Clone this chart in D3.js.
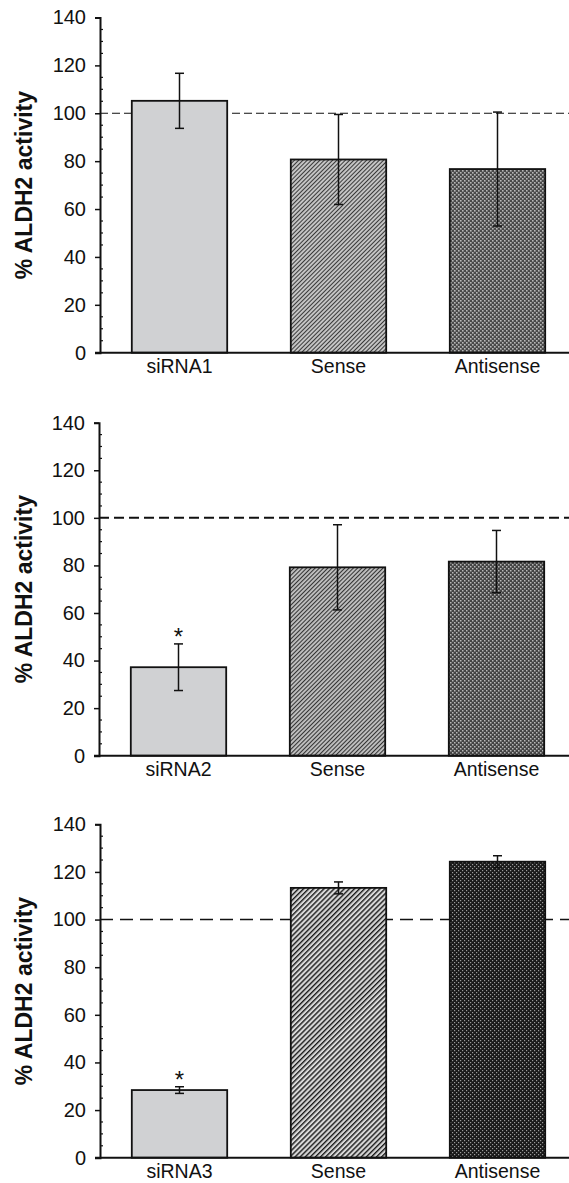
<!DOCTYPE html>
<html>
<head>
<meta charset="utf-8">
<script src="https://cdn.jsdelivr.net/npm/d3@7"></script>
<style>
  html, body { margin: 0; padding: 0; background: #fff; }
  svg { display: block; font-family: "Liberation Sans", Arial, sans-serif; }
</style>
</head>
<body>
<svg id="stage"></svg>
<script>
/* ---------- data ---------- */

const group_labels = ["siRNA1", "siRNA2", "siRNA3"];
const control_labels = ["Sense", "Antisense"];

const means_1 = [105.2, 80.7, 76.7];
const errors_1 = [11.5, 18.8, 23.8];
const means_2 = [37.2, 79.2, 81.6];
const errors_2 = [9.8, 17.9, 13.1];
const means_3 = [28.4, 113.3, 124.3];
const errors_3 = [1.4, 2.5, 2.5];

const significant = [false, true, true]; // asterisk over the siRNA bar
const reference_level = 100;
const y_ticks = [0, 20, 40, 60, 80, 100, 120, 140];
const y_axis_label = "% ALDH2 activity";

/* ---------- basic setup ---------- */

const width = 569;
const height = 1183;

const svg = d3.select("#stage")
  .attr("width", width)
  .attr("height", height);

const defs = svg.append("defs");

// hatch patterns, each panel was scanned a bit differently
function add_hatch(id, bg, fg, gap, stroke_w) {
  const p = defs.append("pattern")
    .attr("id", id)
    .attr("patternUnits", "userSpaceOnUse")
    .attr("width", gap)
    .attr("height", 10)
    .attr("patternTransform", "rotate(45)");
  p.append("rect").attr("width", gap).attr("height", 10).attr("fill", bg);
  p.append("line")
    .attr("x1", 0.5).attr("y1", 0).attr("x2", 0.5).attr("y2", 10)
    .attr("stroke", fg).attr("stroke-width", stroke_w);
}

function add_check(id, bg, fg, cell, dot) {
  const p = defs.append("pattern")
    .attr("id", id)
    .attr("patternUnits", "userSpaceOnUse")
    .attr("width", cell)
    .attr("height", cell);
  p.append("rect").attr("width", cell).attr("height", cell).attr("fill", bg);
  p.append("rect").attr("width", dot).attr("height", dot).attr("fill", fg);
  p.append("rect").attr("x", cell / 2).attr("y", cell / 2)
    .attr("width", dot).attr("height", dot).attr("fill", fg);
}

add_hatch("hatch1", "#c4c4c4", "#3a3a3a", 3, 1);
add_check("check1", "#4a4a4a", "#b8b8b8", 4, 1.6);
add_hatch("hatch2", "#c0c0c0", "#333", 3, 1.1);
add_check("check2", "#444", "#b8b8b8", 4, 1.5);
add_hatch("hatch3", "#d8d8d8", "#1a1a1a", 3.6, 1.8);
add_check("check3", "#1a1a1a", "#9a9a9a", 4, 1.2);

/* ---------- panels ---------- */

const panels = [
  { label: group_labels[0], means: means_1, errors: errors_1, star: significant[0],
    top: 17.5, bottom: 352.7, left: 100, dash: "8,4", dash_w: 1.2, fills: ["#d0d1d3", "url(#hatch1)", "url(#check1)"] },
  { label: group_labels[1], means: means_2, errors: errors_2, star: significant[1],
    top: 422.7, bottom: 755.7, left: 99, dash: "10,5", dash_w: 2, fills: ["#d0d1d3", "url(#hatch2)", "url(#check2)"] },
  { label: group_labels[2], means: means_3, errors: errors_3, star: significant[2],
    top: 824.3, bottom: 1157.7, left: 100, dash: "13,7", dash_w: 1.5, fills: ["#d0d1d3", "url(#hatch3)", "url(#check3)"] }
];

panels.forEach(draw_panel);

function draw_panel(p) {
  const cats = [p.label, ...control_labels];
  const rows = cats.map((c, i) => ({ cat: c, mean: p.means[i], err: p.errors[i], fill: p.fills[i] }));

  const x = d3.scaleBand()
    .domain(cats)
    .range([p.left, p.left + 477])
    .paddingInner(0.4)
    .paddingOuter(0.2);

  const y = d3.scaleLinear()
    .domain([0, 140])
    .range([p.bottom, p.top]);

  const g = svg.append("g");

  // reference line at 100 %, sits behind the bars
  g.append("line")
    .attr("x1", p.left).attr("x2", width)
    .attr("y1", y(reference_level)).attr("y2", y(reference_level))
    .attr("stroke", "#111")
    .attr("stroke-width", p.dash_w)
    .attr("stroke-dasharray", p.dash);

  g.selectAll("rect.bar")
    .data(rows)
    .join("rect")
    .attr("class", "bar")
    .attr("x", d => x(d.cat))
    .attr("width", x.bandwidth())
    .attr("y", d => y(d.mean))
    .attr("height", d => y(0) - y(d.mean))
    .attr("fill", d => d.fill)
    .attr("stroke", "#111")
    .attr("stroke-width", 1.8);

  // error bars
  const eb = g.selectAll("g.err")
    .data(rows)
    .join("g")
    .attr("class", "err")
    .attr("transform", d => `translate(${x(d.cat) + x.bandwidth() / 2},0)`);

  eb.append("line")
    .attr("y1", d => y(d.mean + d.err))
    .attr("y2", d => y(d.mean - d.err))
    .attr("stroke", "#111").attr("stroke-width", 1.5);
  eb.selectAll("line.cap")
    .data(d => [d.mean + d.err, d.mean - d.err])
    .join("line")
    .attr("class", "cap")
    .attr("x1", -4.5).attr("x2", 4.5)
    .attr("y1", d => y(d)).attr("y2", d => y(d))
    .attr("stroke", "#111").attr("stroke-width", 1.5);

  if (p.star) {
    const d0 = rows[0];
    g.append("text")
      .attr("x", x(d0.cat) + x.bandwidth() / 2)
      .attr("y", y(d0.mean + d0.err) + 1)
      .attr("text-anchor", "middle")
      .attr("font-size", 24)
      .attr("fill", "#111")
      .text("*");
  }

  // y axis: major ticks outside, minor ticks inside
  const y_axis = g.append("g")
    .attr("transform", `translate(${p.left},0)`)
    .call(d3.axisLeft(y).tickValues(y_ticks).tickSize(5).tickPadding(9));
  y_axis.select(".domain").attr("stroke", "#111").attr("stroke-width", 2);
  y_axis.selectAll(".tick line").attr("stroke", "#111").attr("stroke-width", 1.5);
  y_axis.selectAll(".tick text")
    .attr("font-size", 20)
    .attr("font-family", "Liberation Sans, Arial, sans-serif")
    .attr("fill", "#111");

  const minor = d3.range(5, 140, 5).filter(v => v % 20 !== 0);
  g.append("g")
    .selectAll("line")
    .data(minor)
    .join("line")
    .attr("x1", p.left).attr("x2", p.left + 3)
    .attr("y1", d => y(d)).attr("y2", d => y(d))
    .attr("stroke", "#111").attr("stroke-width", 1.2);

  // x axis line runs off the right edge
  g.append("line")
    .attr("x1", p.left - 5).attr("x2", width)
    .attr("y1", y(0)).attr("y2", y(0))
    .attr("stroke", "#111").attr("stroke-width", 2);

  g.selectAll("text.cat")
    .data(cats)
    .join("text")
    .attr("class", "cat")
    .attr("x", d => x(d) + x.bandwidth() / 2)
    .attr("y", y(0) + 20)
    .attr("text-anchor", "middle")
    .attr("font-size", 19.5)
    .attr("fill", "#111")
    .text(d => d);

  g.append("text")
    .attr("transform", `translate(32,${(p.top + p.bottom) / 2}) rotate(-90)`)
    .attr("text-anchor", "middle")
    .attr("font-size", 23)
    .attr("font-weight", "bold")
    .attr("fill", "#111")
    .text(y_axis_label);
}
</script>
</body>
</html>
